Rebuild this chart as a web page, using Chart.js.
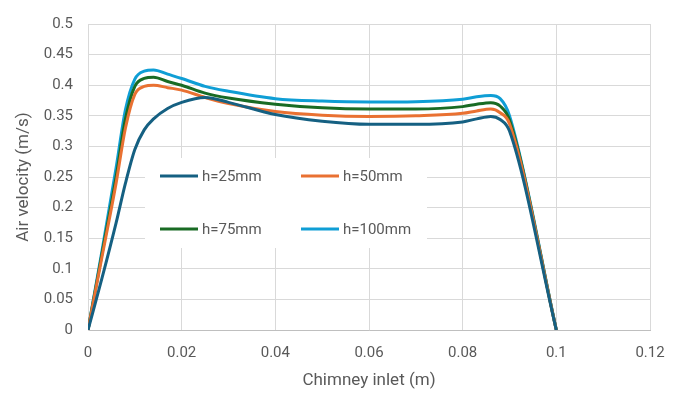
<!DOCTYPE html>
<html>
<head>
<meta charset="utf-8">
<script src="https://cdn.jsdelivr.net/npm/chart.js@4.4.1/dist/chart.umd.min.js"></script>
<style>
  html, body { margin: 0; padding: 0; background: #fff; }
  #wrap { width: 682px; height: 394px; position: relative; }
</style>
</head>
<body>
<div id="wrap"><canvas id="velChart"></canvas></div>
<script>
// Chimney inlet positions (m)
const inletX = [0, 0.003, 0.006, 0.008, 0.01, 0.012, 0.014, 0.017, 0.02, 0.025, 0.03, 0.04, 0.05, 0.06, 0.07, 0.08, 0.083, 0.086, 0.088, 0.09, 0.1];

// Air velocity (m/s) per gap height
const h25  = [0, 0.085, 0.175, 0.24, 0.295, 0.327, 0.345, 0.362, 0.372, 0.38, 0.372, 0.352, 0.341, 0.336, 0.336, 0.34, 0.345, 0.349, 0.344, 0.325, 0];
const h50  = [0, 0.12, 0.24, 0.33, 0.385, 0.398, 0.4, 0.396, 0.392, 0.38, 0.37, 0.357, 0.351, 0.349, 0.35, 0.354, 0.358, 0.361, 0.355, 0.337, 0];
const h75  = [0, 0.125, 0.25, 0.345, 0.398, 0.411, 0.413, 0.406, 0.4, 0.387, 0.379, 0.369, 0.363, 0.361, 0.361, 0.365, 0.369, 0.3715, 0.366, 0.343, 0];
const h100 = [0, 0.13, 0.265, 0.36, 0.41, 0.423, 0.425, 0.418, 0.411, 0.398, 0.39, 0.378, 0.374, 0.3725, 0.373, 0.377, 0.381, 0.383, 0.378, 0.35, 0];

const seriesNames = ['h=25mm', 'h=50mm', 'h=75mm', 'h=100mm'];
const seriesColors = ['#156082', '#E97132', '#196B24', '#0F9ED5'];

const xTicks = [0, 0.02, 0.04, 0.06, 0.08, 0.1, 0.12];
const yTicks = [0, 0.05, 0.1, 0.15, 0.2, 0.25, 0.3, 0.35, 0.4, 0.45, 0.5];

const fontFamily = 'Roboto, "Liberation Sans", sans-serif';
const textColor = '#595959';

const toPoints = vals => inletX.map((x, i) => ({ x: x, y: vals[i] }));

// legend drawn inside the plot area, 2 x 2
const innerLegend = {
  id: 'innerLegend',
  afterDraw(chart) {
    const ctx = chart.ctx;
    ctx.save();
    ctx.fillStyle = '#ffffff';
    ctx.fillRect(145, 158, 282, 90);
    ctx.font = '15px ' + fontFamily;
    ctx.textBaseline = 'middle';
    ctx.textAlign = 'left';
    const cols = [160, 301];
    const rows = [176, 229];
    chart.data.datasets.forEach((ds, i) => {
      const x = cols[i % 2];
      const y = rows[Math.floor(i / 2)];
      ctx.strokeStyle = ds.borderColor;
      ctx.lineWidth = 3;
      ctx.beginPath();
      ctx.moveTo(x, y);
      ctx.lineTo(x + 38, y);
      ctx.stroke();
      ctx.fillStyle = textColor;
      ctx.fillText(ds.label, x + 42, y + 1);
    });
    ctx.restore();
  }
};

const datasets = [h25, h50, h75, h100].map((vals, i) => ({
  label: seriesNames[i],
  data: toPoints(vals),
  borderColor: seriesColors[i],
  backgroundColor: seriesColors[i],
  borderWidth: 3,
  pointRadius: 0,
  cubicInterpolationMode: 'monotone',
  fill: false
}));

new Chart(document.getElementById('velChart'), {
  type: 'line',
  data: { datasets: datasets },
  options: {
    responsive: true,
    maintainAspectRatio: false,
    animation: false,
    layout: { padding: { top: 17, right: 32, left: 0, bottom: 0 } },
    plugins: {
      legend: { display: false },
      tooltip: { enabled: false }
    },
    scales: {
      x: {
        type: 'linear',
        min: 0,
        max: 0.12,
        afterBuildTicks: scale => { scale.ticks = xTicks.map(v => ({ value: v })); },
        afterFit: scale => { scale.height = 64; },
        grid: { color: '#d9d9d9', drawTicks: false },
        border: { color: '#bfbfbf' },
        ticks: {
          color: textColor,
          font: { family: fontFamily, size: 15 },
          padding: 14,
          maxRotation: 0,
          callback: value => String(parseFloat(value.toFixed(2)))
        },
        title: {
          display: true,
          text: 'Chimney inlet (m)',
          color: textColor,
          font: { family: fontFamily, size: 17 },
          padding: { top: 0, bottom: 3 }
        }
      },
      y: {
        min: 0,
        max: 0.5,
        afterBuildTicks: scale => { scale.ticks = yTicks.map(v => ({ value: v })); },
        afterFit: scale => { scale.width = 88; },
        grid: { color: '#d9d9d9', drawTicks: false },
        border: { color: '#d9d9d9' },
        ticks: {
          color: textColor,
          font: { family: fontFamily, size: 15 },
          padding: 15,
          callback: value => String(parseFloat(value.toFixed(2)))
        },
        title: {
          display: true,
          text: 'Air velocity (m/s)',
          color: textColor,
          font: { family: fontFamily, size: 17 },
          padding: { top: 14, bottom: 0 }
        }
      }
    }
  },
  plugins: [innerLegend]
});
</script>
</body>
</html>
